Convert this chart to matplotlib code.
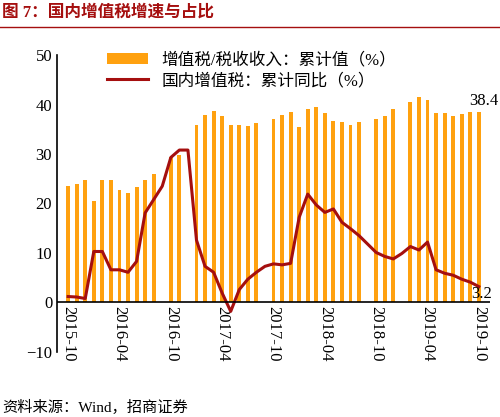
import numpy as np
import matplotlib
matplotlib.use("Agg")
import matplotlib.pyplot as plt

plt.rcParams['font.family'] = ['Liberation Serif', 'Noto Sans CJK SC']

# monthly, 2015-10 .. 2019-10
share = [23.5, 24.0, 24.8, 20.6, 24.7, 24.8, 22.8, 22.1, 23.3, 24.7, 26.0, np.nan,
         29.3, 29.8, np.nan, 35.8, 37.9, 38.6, 37.6, 35.8, 35.8, 35.6, 36.3, np.nan,
         37.0, 37.8, 38.5, 35.5, 39.0, 39.4, 38.2, 36.6, 36.4, 35.8, 36.4, np.nan,
         37.0, 37.6, 39.0, np.nan, 40.6, 41.6, 41.0, 38.2, 38.2, 37.6, 38.0, 38.5, 38.4]
growth = [1.2, 1.1, 0.8, 10.3, 10.3, 6.6, 6.6, 6.1, 8.3, 18.1, 20.8, 23.5,
          29.3, 30.8, 30.8, 12.6, 7.3, 6.1, 1.9, -1.8, 2.6, 4.7, 6.1, 7.3,
          7.8, 7.6, 7.9, 17.2, 21.9, 19.7, 18.2, 18.9, 16.2, 14.9, 13.5, 11.8,
          10.1, 9.3, 8.8, 9.9, 11.3, 10.6, 12.2, 6.6, 5.9, 5.5, 4.7, 4.1, 3.2]
tick_labels = ['2015-10', '2016-04', '2016-10', '2017-04', '2017-10',
               '2018-04', '2018-10', '2019-04', '2019-10']

x = np.arange(len(share))
fig = plt.figure(figsize=(5.0, 4.17), dpi=100)
ax = fig.add_axes([0.114, 0.156, 0.866, 0.712])

bars = ax.bar(x, share, width=0.45, color='#FFA10F', label='增值税/税收收入：累计值（%）')
line, = ax.plot(x, growth, color='#A50F0F', lw=2.2, label='国内增值税：累计同比（%）')

ax.set_xlim(-1.3, 49.3)
ax.set_ylim(-10, 50)
ax.set_yticks(range(-10, 51, 10))
ax.tick_params(axis='y', length=0, labelsize=12)
for s in ['top', 'right', 'bottom']:
    ax.spines[s].set_visible(False)
ax.spines['left'].set_linewidth(1.2)
ax.axhline(0, color='black', lw=1.2)

ax.set_xticks(x[::6])
ax.set_xticklabels(tick_labels, rotation=-90, fontsize=12)
ax.tick_params(axis='x', length=0, pad=2)
for lab in ax.get_xticklabels():
    lab.set_y(0.165)
    lab.set_va('top')

ax.text(x[-1] + 0.6, share[-1] + 1.5, '38.4', fontsize=12, ha='center')
ax.text(x[-1] + 0.3, growth[-1] - 2.2, '3.2', fontsize=12, ha='center')

ax.legend([bars, line], [bars.get_label(), line.get_label()],
          loc='upper left', bbox_to_anchor=(0.08, 1.06), frameon=False,
          fontsize=12, handlelength=2.5, labelspacing=0.3)

fig.text(0.005, 0.97, '图 7：国内增值税增速与占比', color='#A50F0F',
         fontsize=12, fontweight='bold', va='center')
fig.add_artist(plt.Line2D([0, 1], [0.935, 0.935], color='#A50F0F', lw=1))
fig.text(0.005, 0.022, '资料来源：Wind，招商证券', fontsize=11, va='center')

fig.savefig('out.png', dpi=100)
